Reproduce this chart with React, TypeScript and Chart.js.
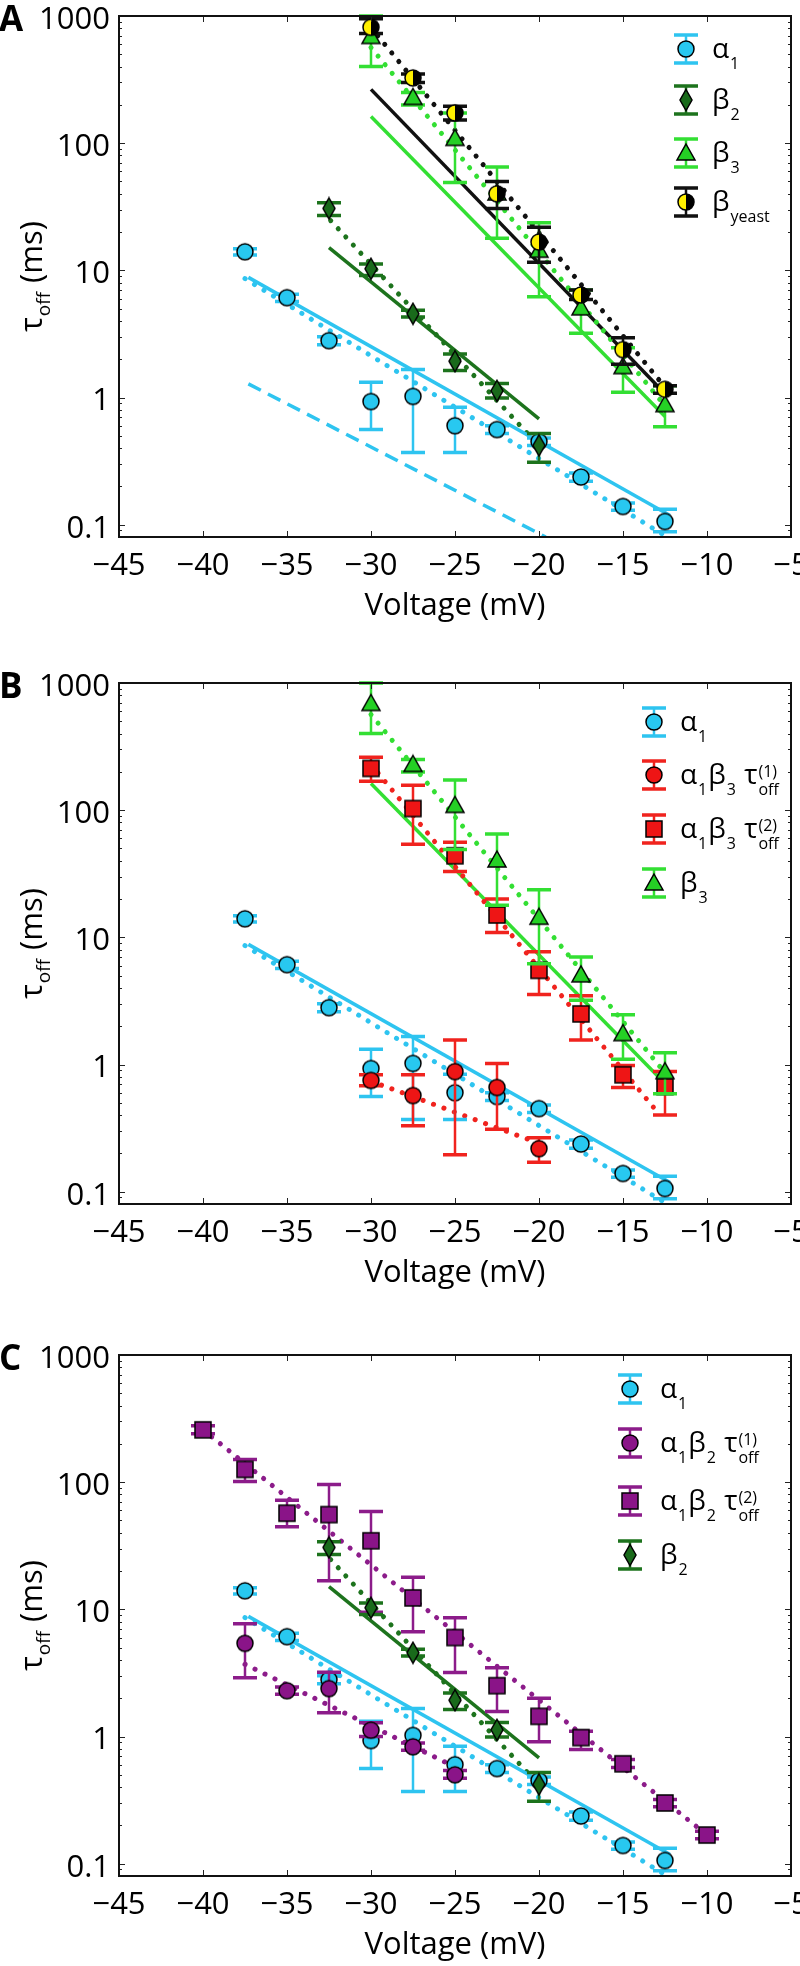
import React, { useEffect, useRef } from 'react';
import { Chart, registerables } from 'chart.js';
Chart.register(...registerables);

const FONT = "'Open Sans', 'Noto Sans', sans-serif";

const X_MIN = -45;
const X_MAX = -5;
const Y_MIN = 0.08;
const Y_MAX = 1000;
const X_TICKS = [-45, -40, -35, -30, -25, -20, -15, -10, -5];
const Y_TICKS = [0.1, 1, 10, 100, 1000];

// α1
const A1_V = [-37.5, -35, -32.5, -30, -27.5, -25, -22.5, -20, -17.5, -15, -12.5];
const A1_T = [14.0, 6.1, 2.8, 0.93, 1.02, 0.6, 0.56, 0.45, 0.237, 0.139, 0.106];
const A1_LO = [13.2, 5.7, 2.6, 0.56, 0.37, 0.37, 0.52, 0.42, 0.22, 0.13, 0.088];
const A1_HI = [14.8, 6.5, 3.0, 1.32, 1.66, 0.84, 0.6, 0.48, 0.255, 0.148, 0.132];

// β2
const B2_V = [-32.5, -30, -27.5, -25, -22.5, -20];
const B2_T = [30.7, 10.3, 4.56, 1.93, 1.13, 0.42];
const B2_LO = [27, 9.1, 4.3, 1.63, 0.99, 0.31];
const B2_HI = [34, 11.2, 4.85, 2.2, 1.29, 0.52];

// β3
const B3_V = [-30, -27.5, -25, -22.5, -20, -17.5, -15, -12.5];
const B3_T = [690, 229, 109, 40.6, 14.4, 5.07, 1.75, 0.88];
const B3_LO = [400, 200, 49, 17.9, 6.2, 3.2, 1.1, 0.59];
const B3_HI = [1000, 250, 173, 65, 23.7, 7.0, 2.46, 1.24];

// βyeast
const BY_V = [-30, -27.5, -25, -22.5, -20, -17.5, -15, -12.5];
const BY_T = [815, 326, 173, 40, 16.7, 6.4, 2.38, 1.16];
const BY_LO = [727, 300, 152, 30.7, 11.6, 5.9, 1.83, 1.08];
const BY_HI = [950, 350, 195, 50, 21.8, 7.0, 2.95, 1.24];

// α1β3 τoff(1)
const A1B3_1_V = [-30, -27.5, -25, -22.5, -20];
const A1B3_1_T = [0.75, 0.57, 0.88, 0.66, 0.218];
const A1B3_1_LO = [0.68, 0.33, 0.195, 0.31, 0.17];
const A1B3_1_HI = [0.83, 0.83, 1.56, 1.02, 0.265];

// α1β3 τoff(2)
const A1B3_2_V = [-30, -27.5, -25, -22.5, -20, -17.5, -15, -12.5];
const A1B3_2_T = [213, 103, 43.8, 15, 5.5, 2.5, 0.83, 0.67];
const A1B3_2_LO = [169, 54, 33, 10.9, 3.55, 1.56, 0.66, 0.4];
const A1B3_2_HI = [261, 157, 56, 20, 7.7, 3.47, 0.98, 0.88];

// α1β2 τoff(1)
const A1B2_1_V = [-37.5, -35, -32.5, -30, -27.5, -25];
const A1B2_1_T = [5.4, 2.29, 2.38, 1.12, 0.83, 0.5];
const A1B2_1_LO = [2.9, 2.15, 1.54, 1.0, 0.78, 0.47];
const A1B2_1_HI = [7.7, 2.45, 3.2, 1.28, 0.89, 0.54];

// α1β2 τoff(2)
const A1B2_2_V = [-40, -37.5, -35, -32.5, -30, -27.5, -25, -22.5, -20, -17.5, -15, -12.5, -10];
const A1B2_2_T = [258, 126, 57, 55.6, 34.6, 12.3, 6.0, 2.51, 1.44, 0.98, 0.61, 0.30, 0.168];
const A1B2_2_LO = [240, 101, 44.6, 16.8, 9.5, 6.65, 3.18, 1.57, 0.91, 0.79, 0.57, 0.28, 0.157];
const A1B2_2_HI = [278, 151, 72, 96, 58.7, 17.9, 8.6, 3.47, 2.0, 1.1, 0.66, 0.32, 0.18];

// fitted curves (end points)
const FIT_A1_V = [-37.3, -12.2];
const FIT_A1_T = [8.8, 0.118];
const FIT_A1_DOT_V = [-37.5, -12.5];
const FIT_A1_DOT_T = [8.6, 0.082];
const FIT_A1_DASH_V = [-37.3, -19.6];
const FIT_A1_DASH_T = [1.28, 0.08];
const FIT_B2_V = [-32.5, -20];
const FIT_B2_T = [15.1, 0.68];
const FIT_B2_DOT_V = [-32.4, -20.5];
const FIT_B2_DOT_T = [24.6, 0.49];
const FIT_B3_V = [-30, -12.5];
const FIT_B3_T = [162, 0.71];
const FIT_B3_DOT_V = [-30, -12.5];
const FIT_B3_DOT_T = [565, 0.86];
const FIT_BY_V = [-30, -12.5];
const FIT_BY_T = [265, 1.07];
const FIT_BY_DOT_V = [-29.6, -12.6];
const FIT_BY_DOT_T = [700, 1.25];
const FIT_A1B3_1_V = [-30, -20];
const FIT_A1B3_1_T = [0.74, 0.24];
const FIT_A1B3_2_V = [-30, -13];
const FIT_A1B3_2_T = [229, 0.43];
const FIT_A1B2_1_V = [-37.5, -24.8];
const FIT_A1B2_1_T = [3.7, 0.56];
const FIT_A1B2_2_V = [-40, -10];
const FIT_A1B2_2_T = [258, 0.168];

// legend labels
type Part = { t: string; k: 'n' | 'sub' | 'ss'; b?: string };
const L_A1: Part[] = [{ t: 'α', k: 'n' }, { t: '1', k: 'sub' }];
const L_B2: Part[] = [{ t: 'β', k: 'n' }, { t: '2', k: 'sub' }];
const L_B3: Part[] = [{ t: 'β', k: 'n' }, { t: '3', k: 'sub' }];
const L_BY: Part[] = [{ t: 'β', k: 'n' }, { t: 'yeast', k: 'sub' }];
const L_A1B3_1: Part[] = [{ t: 'α', k: 'n' }, { t: '1', k: 'sub' }, { t: 'β', k: 'n' }, { t: '3', k: 'sub' }, { t: ' τ', k: 'n' }, { t: '(1)', k: 'ss', b: 'off' }];
const L_A1B3_2: Part[] = [{ t: 'α', k: 'n' }, { t: '1', k: 'sub' }, { t: 'β', k: 'n' }, { t: '3', k: 'sub' }, { t: ' τ', k: 'n' }, { t: '(2)', k: 'ss', b: 'off' }];
const L_A1B2_1: Part[] = [{ t: 'α', k: 'n' }, { t: '1', k: 'sub' }, { t: 'β', k: 'n' }, { t: '2', k: 'sub' }, { t: ' τ', k: 'n' }, { t: '(1)', k: 'ss', b: 'off' }];
const L_A1B2_2: Part[] = [{ t: 'α', k: 'n' }, { t: '1', k: 'sub' }, { t: 'β', k: 'n' }, { t: '2', k: 'sub' }, { t: ' τ', k: 'n' }, { t: '(2)', k: 'ss', b: 'off' }];

const CYAN = '#2ec4f0';
const CYAN_FILL = '#28c8f0';
const DKGREEN = '#1d731d';
const DKGREEN_FILL = '#196a1b';
const GREEN = '#33df33';
const GREEN_FILL = '#25d025';
const BLACK = '#111111';
const RED = '#f0231e';
const RED_FILL = '#ee1515';
const PURPLE = '#8c1c8a';
const PURPLE_FILL = '#8a1488';
const YELLOW = '#fff000';

type Series = { v: number[]; t: number[]; lo: number[]; hi: number[]; color: string; marker: string; fill: string };
type Fit = { v: number[]; t: number[]; color: string; style: 'solid' | 'dotted' | 'dashed' };

const S_A1: Series = { v: A1_V, t: A1_T, lo: A1_LO, hi: A1_HI, color: CYAN, marker: 'circle', fill: CYAN_FILL };
const S_B2: Series = { v: B2_V, t: B2_T, lo: B2_LO, hi: B2_HI, color: DKGREEN, marker: 'diamond', fill: DKGREEN_FILL };
const S_B3: Series = { v: B3_V, t: B3_T, lo: B3_LO, hi: B3_HI, color: GREEN, marker: 'triangle', fill: GREEN_FILL };
const S_BY: Series = { v: BY_V, t: BY_T, lo: BY_LO, hi: BY_HI, color: BLACK, marker: 'half', fill: YELLOW };
const S_A1B3_1: Series = { v: A1B3_1_V, t: A1B3_1_T, lo: A1B3_1_LO, hi: A1B3_1_HI, color: RED, marker: 'circle', fill: RED_FILL };
const S_A1B3_2: Series = { v: A1B3_2_V, t: A1B3_2_T, lo: A1B3_2_LO, hi: A1B3_2_HI, color: RED, marker: 'square', fill: RED_FILL };
const S_A1B2_1: Series = { v: A1B2_1_V, t: A1B2_1_T, lo: A1B2_1_LO, hi: A1B2_1_HI, color: PURPLE, marker: 'circle', fill: PURPLE_FILL };
const S_A1B2_2: Series = { v: A1B2_2_V, t: A1B2_2_T, lo: A1B2_2_LO, hi: A1B2_2_HI, color: PURPLE, marker: 'square', fill: PURPLE_FILL };

const F = (v: number[], t: number[], color: string, style: Fit['style']): Fit => ({ v, t, color, style });

type Panel = {
  id: string;
  top: number;
  height: number;
  series: Series[]; // bottom -> top
  fits: Fit[];
  legend: { mx: number; tx: number; rows: number[]; entries: { s: Series; parts: Part[] }[] };
};

const PANELS: Panel[] = [
  {
    id: 'A', top: 0, height: 655,
    series: [S_A1, S_B2, S_B3, S_BY],
    fits: [
      F(FIT_A1_DASH_V, FIT_A1_DASH_T, CYAN, 'dashed'),
      F(FIT_A1_V, FIT_A1_T, CYAN, 'solid'),
      F(FIT_A1_DOT_V, FIT_A1_DOT_T, CYAN, 'dotted'),
      F(FIT_B2_V, FIT_B2_T, DKGREEN, 'solid'),
      F(FIT_B2_DOT_V, FIT_B2_DOT_T, DKGREEN, 'dotted'),
      F(FIT_B3_V, FIT_B3_T, GREEN, 'solid'),
      F(FIT_B3_DOT_V, FIT_B3_DOT_T, GREEN, 'dotted'),
      F(FIT_BY_V, FIT_BY_T, BLACK, 'solid'),
      F(FIT_BY_DOT_V, FIT_BY_DOT_T, BLACK, 'dotted'),
    ],
    legend: { mx: 686, tx: 712, rows: [33, 84, 137, 186], entries: [
      { s: S_A1, parts: L_A1 }, { s: S_B2, parts: L_B2 }, { s: S_B3, parts: L_B3 }, { s: S_BY, parts: L_BY },
    ] },
  },
  {
    id: 'B', top: 667, height: 655,
    series: [S_A1, S_A1B3_1, S_A1B3_2, S_B3],
    fits: [
      F(FIT_A1_V, FIT_A1_T, CYAN, 'solid'),
      F(FIT_A1_DOT_V, FIT_A1_DOT_T, CYAN, 'dotted'),
      F(FIT_A1B3_1_V, FIT_A1B3_1_T, RED, 'dotted'),
      F(FIT_A1B3_2_V, FIT_A1B3_2_T, RED, 'dotted'),
      F(FIT_B3_V, FIT_B3_T, GREEN, 'solid'),
      F(FIT_B3_DOT_V, FIT_B3_DOT_T, GREEN, 'dotted'),
    ],
    legend: { mx: 654, tx: 680, rows: [39, 92, 146, 200], entries: [
      { s: S_A1, parts: L_A1 }, { s: S_A1B3_1, parts: L_A1B3_1 }, { s: S_A1B3_2, parts: L_A1B3_2 }, { s: S_B3, parts: L_B3 },
    ] },
  },
  {
    id: 'C', top: 1339, height: 627,
    series: [S_A1, S_A1B2_1, S_A1B2_2, S_B2],
    fits: [
      F(FIT_A1_V, FIT_A1_T, CYAN, 'solid'),
      F(FIT_A1_DOT_V, FIT_A1_DOT_T, CYAN, 'dotted'),
      F(FIT_A1B2_1_V, FIT_A1B2_1_T, PURPLE, 'dotted'),
      F(FIT_A1B2_2_V, FIT_A1B2_2_T, PURPLE, 'dotted'),
      F(FIT_B2_V, FIT_B2_T, DKGREEN, 'solid'),
      F(FIT_B2_DOT_V, FIT_B2_DOT_T, DKGREEN, 'dotted'),
    ],
    legend: { mx: 630, tx: 660, rows: [34, 88, 146, 200], entries: [
      { s: S_A1, parts: L_A1 }, { s: S_A1B2_1, parts: L_A1B2_1 }, { s: S_A1B2_2, parts: L_A1B2_2 }, { s: S_B2, parts: L_B2 },
    ] },
  },
];

const CHART_TOP = 16;
const CHART_H = 521;
const Y_AXIS_W = 119;
const RIGHT_PAD = 7;

const markerCache: Record<string, HTMLCanvasElement> = {};
function marker(kind: string, fill: string): HTMLCanvasElement {
  const key = kind + fill;
  if (markerCache[key]) return markerCache[key];
  const c = document.createElement('canvas');
  const w = kind === 'diamond' ? 16 : 22;
  const h = kind === 'diamond' ? 24 : 22;
  c.width = w;
  c.height = h;
  const g = c.getContext('2d')!;
  const cx = w / 2, cy = h / 2;
  g.lineWidth = 1.5;
  g.strokeStyle = '#000';
  g.fillStyle = fill;
  if (kind === 'half') {
    g.beginPath();
    g.arc(cx, cy, 8, Math.PI / 2, (Math.PI * 3) / 2);
    g.closePath();
    g.fillStyle = YELLOW;
    g.fill();
    g.beginPath();
    g.arc(cx, cy, 8, -Math.PI / 2, Math.PI / 2);
    g.closePath();
    g.fillStyle = '#000';
    g.fill();
    g.beginPath();
    g.arc(cx, cy, 8, 0, Math.PI * 2);
    g.stroke();
  } else {
    g.beginPath();
    if (kind === 'circle') g.arc(cx, cy, 8, 0, Math.PI * 2);
    else if (kind === 'square') g.rect(cx - 8, cy - 8, 16, 16);
    else if (kind === 'diamond') {
      g.moveTo(cx, cy - 10.5);
      g.lineTo(cx + 6, cy);
      g.lineTo(cx, cy + 10.5);
      g.lineTo(cx - 6, cy);
      g.closePath();
    } else if (kind === 'triangle') {
      g.moveTo(cx, cy - 9);
      g.lineTo(cx + 9, cy + 7);
      g.lineTo(cx - 9, cy + 7);
      g.closePath();
    }
    g.fill();
    g.stroke();
  }
  markerCache[key] = c;
  return c;
}

function drawErrorBar(ctx: CanvasRenderingContext2D, x: number, y1: number, y2: number, color: string) {
  ctx.strokeStyle = color;
  ctx.lineCap = 'butt';
  ctx.lineWidth = 2.5;
  ctx.beginPath();
  ctx.moveTo(x, y1);
  ctx.lineTo(x, y2);
  ctx.stroke();
  ctx.lineWidth = 3.5;
  ctx.beginPath();
  ctx.moveTo(x - 12, y1);
  ctx.lineTo(x + 12, y1);
  ctx.moveTo(x - 12, y2);
  ctx.lineTo(x + 12, y2);
  ctx.stroke();
}

const errorBarPlugin = {
  id: 'errbars',
  beforeDatasetDraw(chart: any, args: any) {
    const ds: any = chart.data.datasets[args.index];
    if (!ds.errLo) return;
    const xs = chart.scales.x, ys = chart.scales.y;
    const ctx: CanvasRenderingContext2D = chart.ctx;
    ctx.save();
    ds.data.forEach((p: any, i: number) => {
      const x = xs.getPixelForValue(p.x);
      const y1 = ys.getPixelForValue(ds.errLo[i]);
      const y2 = ys.getPixelForValue(ds.errHi[i]);
      drawErrorBar(ctx, x, y1, y2, ds.errColor);
    });
    ctx.restore();
  },
};

function drawRich(ctx: CanvasRenderingContext2D, parts: Part[], x: number, y: number) {
  let cx = x;
  const main = `28px ${FONT}`;
  const small = `16px ${FONT}`;
  ctx.textBaseline = 'alphabetic';
  ctx.textAlign = 'left';
  ctx.fillStyle = '#000';
  for (const p of parts) {
    if (p.k === 'n') {
      ctx.font = main;
      ctx.fillText(p.t, cx, y + 9);
      cx += ctx.measureText(p.t).width;
    } else if (p.k === 'sub') {
      ctx.font = small;
      ctx.fillText(p.t, cx + 1, y + 20);
      cx += ctx.measureText(p.t).width + 2;
    } else {
      ctx.font = small;
      ctx.fillText(p.t, cx + 1, y + 2);
      const w1 = ctx.measureText(p.t).width;
      ctx.fillText(p.b || '', cx + 1, y + 20);
      const w2 = ctx.measureText(p.b || '').width;
      cx += Math.max(w1, w2) + 2;
    }
  }
}

function makeFramePlugin(panel: Panel) {
  return {
    id: 'frame' + panel.id,
    afterDraw(chart: any) {
      const ctx: CanvasRenderingContext2D = chart.ctx;
      const a = chart.chartArea;
      const xs = chart.scales.x, ys = chart.scales.y;
      ctx.save();
      // inward tick marks
      ctx.strokeStyle = '#222';
      ctx.lineWidth = 1;
      ctx.beginPath();
      for (const v of X_TICKS) {
        const px = Math.round(xs.getPixelForValue(v)) + 0.5;
        ctx.moveTo(px, a.bottom);
        ctx.lineTo(px, a.bottom - 6);
        ctx.moveTo(px, a.top);
        ctx.lineTo(px, a.top + 6);
      }
      for (let e = -2; e <= 2; e++) {
        for (let m = 1; m <= 9; m++) {
          const v = m * Math.pow(10, e);
          if (v < Y_MIN - 1e-9 || v > Y_MAX + 1e-9) continue;
          const py = Math.round(ys.getPixelForValue(v)) + 0.5;
          const len = m === 1 ? 6 : 3;
          ctx.moveTo(a.left, py);
          ctx.lineTo(a.left + len, py);
          ctx.moveTo(a.right, py);
          ctx.lineTo(a.right - len, py);
        }
      }
      ctx.stroke();
      // box
      ctx.strokeStyle = '#111';
      ctx.lineWidth = 2;
      ctx.strokeRect(a.left, a.top, a.right - a.left, a.bottom - a.top);

      // legend
      const lg = panel.legend;
      lg.entries.forEach((en, i) => {
        const y = lg.rows[i] + a.top;
        drawErrorBar(ctx, lg.mx, y - 14, y + 14, en.s.color);
        const img = marker(en.s.marker, en.s.fill);
        ctx.drawImage(img, lg.mx - img.width / 2, y - img.height / 2);
        drawRich(ctx, en.parts, lg.tx, y);
      });

      // x title
      ctx.fillStyle = '#000';
      ctx.font = `31px ${FONT}`;
      ctx.textAlign = 'center';
      ctx.textBaseline = 'middle';
      ctx.fillText('Voltage (mV)', (a.left + a.right) / 2, a.bottom + 69);

      // y title
      ctx.save();
      ctx.translate(31, (a.top + a.bottom) / 2);
      ctx.rotate(-Math.PI / 2);
      ctx.textBaseline = 'alphabetic';
      ctx.textAlign = 'left';
      const mainF = `31px ${FONT}`;
      const subF = `19px ${FONT}`;
      ctx.font = mainF;
      const w1 = ctx.measureText('τ').width;
      const w3 = ctx.measureText(' (ms)').width;
      ctx.font = subF;
      const w2 = ctx.measureText('off').width;
      let sx = -(w1 + w2 + 2 + w3) / 2;
      ctx.font = mainF;
      ctx.fillText('τ', sx, 11);
      sx += w1 + 1;
      ctx.font = subF;
      ctx.fillText('off', sx, 19);
      sx += w2 + 1;
      ctx.font = mainF;
      ctx.fillText(' (ms)', sx, 11);
      ctx.restore();

      // panel letter
      ctx.font = `bold 35px ${FONT}`;
      ctx.textAlign = 'left';
      ctx.textBaseline = 'middle';
      ctx.fillStyle = '#000';
      ctx.fillText(panel.id, -1, a.top + 5);
      ctx.restore();
    },
  };
}

const fmtX = (v: number) => (v < 0 ? '\u2212' + Math.abs(v) : String(v));

function buildConfig(panel: Panel): any {
  const n = panel.series.length;
  const markerSets = panel.series.map((s, i) => ({
    data: s.v.map((v, j) => ({ x: v, y: s.t[j] })),
    showLine: false,
    pointStyle: marker(s.marker, s.fill),
    pointRadius: 8,
    pointHoverRadius: 8,
    errLo: s.lo,
    errHi: s.hi,
    errColor: s.color,
    order: n - i,
  }));
  const fitSets = panel.fits.map((f) => ({
    data: f.v.map((v, j) => ({ x: v, y: f.t[j] })),
    showLine: true,
    pointRadius: 0,
    borderColor: f.color,
    borderWidth: f.style === 'dotted' ? 5 : 3.5,
    borderDash: f.style === 'dotted' ? [0.1, 11] : f.style === 'dashed' ? [14, 8] : [],
    borderCapStyle: f.style === 'dotted' ? 'round' : 'butt',
    fill: false,
    tension: 0,
    order: 100,
  }));
  const xAxisH = panel.height - CHART_TOP - CHART_H;
  return {
    type: 'scatter',
    data: { datasets: [...markerSets, ...fitSets] },
    options: {
      animation: false,
      responsive: false,
      devicePixelRatio: 1,
      events: [],
      layout: { padding: { top: CHART_TOP, left: 0, right: RIGHT_PAD, bottom: 0 } },
      plugins: { legend: { display: false }, tooltip: { enabled: false } },
      scales: {
        x: {
          type: 'linear',
          min: X_MIN,
          max: X_MAX,
          grid: { display: false, drawTicks: false },
          border: { display: false },
          afterBuildTicks: (s: any) => { s.ticks = X_TICKS.map((v) => ({ value: v })); },
          afterFit: (s: any) => { s.height = xAxisH; s.paddingLeft = 0; s.paddingRight = 0; },
          ticks: {
            autoSkip: false,
            maxRotation: 0,
            padding: 11,
            color: '#000',
            font: { family: FONT, size: 31 },
            callback: (v: number) => fmtX(v),
          },
        },
        y: {
          type: 'logarithmic',
          min: Y_MIN,
          max: Y_MAX,
          grid: { display: false, drawTicks: false },
          border: { display: false },
          afterBuildTicks: (s: any) => { s.ticks = Y_TICKS.map((v) => ({ value: v })); },
          afterFit: (s: any) => { s.width = Y_AXIS_W; s.paddingTop = 0; s.paddingBottom = 0; },
          ticks: {
            autoSkip: false,
            padding: 9,
            labelOffset: 4,
            color: '#000',
            font: { family: FONT, size: 31 },
            callback: (v: number) => String(v),
          },
        },
      },
    },
    plugins: [errorBarPlugin, makeFramePlugin(panel)],
  };
}

export default function App() {
  const r0 = useRef<HTMLCanvasElement>(null);
  const r1 = useRef<HTMLCanvasElement>(null);
  const r2 = useRef<HTMLCanvasElement>(null);
  const refs = [r0, r1, r2];
  useEffect(() => {
    const charts = PANELS.map((p, i) => new Chart(refs[i].current as HTMLCanvasElement, buildConfig(p)));
    return () => charts.forEach((c) => c.destroy());
  }, []);
  return (
    <div style={{ position: 'absolute', left: 0, top: 0, width: 800, height: 1966, background: '#fff', overflow: 'hidden' }}>
      {PANELS.map((p, i) => (
        <canvas
          key={p.id}
          ref={refs[i]}
          width={800}
          height={p.height}
          style={{ position: 'absolute', left: 0, top: p.top, width: 800, height: p.height }}
        />
      ))}
    </div>
  );
}
